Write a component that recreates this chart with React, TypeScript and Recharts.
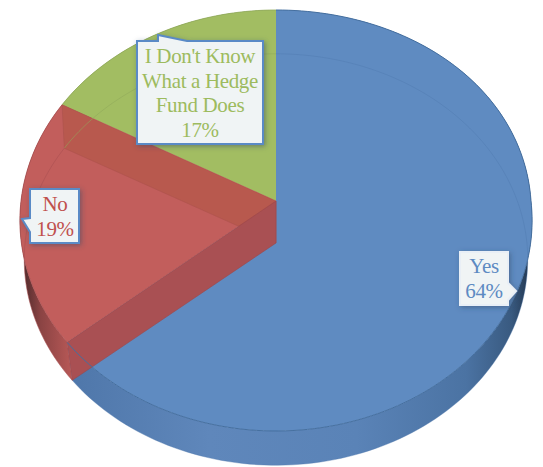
import React from "react";
import { PieChart, Pie } from "recharts";

// Survey shares, listed in paint order so the red wedge ends up on top.
const categories = ["Yes", "I Don't Know What a Hedge Fund Does", "No"];
const shares = [64, 17, 19];
const tableRows = categories.map((name, i) => ({ name, value: shares[i] }));

// Label lines for the callouts, same order as the categories.
const labelLines = [["Yes"], ["I Don't Know", "What a Hedge", "Fund Does"], ["No"]];

const topColors = ["#5f8bc1", "#a2bd62", "#c25e5c"];
const inkColors = ["#5d8ac2", "#9dbb5e", "#c0504d"];
const rimColors = ["#4d77ab", "#8fa85a", "#a84f50"];

// Callout geometry: outline polygon (box plus pointer), text centre, first baseline.
const callouts = [
  {
    outline: "460,252 508,252 508,283 516,291 508,300 508,305 460,305",
    cx: 484,
    base: 273,
    border: "#e9eff6",
  },
  {
    outline: "137,41 158,41 158,35 187,41 263,41 263,144 137,144",
    cx: 200,
    base: 63,
    border: "#5a8ac6",
  },
  {
    outline: "30,189 79,189 79,243 30,243 30,232 22,219 30,218",
    cx: 55,
    base: 211,
    border: "#5a8ac6",
  },
];

const W = 543;
const H = 467;
const PIE_CX = 276;
const PIE_CY = 201;
const PIE_R = 255;
const DEPTH = 42; // thickness of the disc at its hub

// Perspective of the two faces of the disc: tilt, vertical squash, horizontal scale.
const TOP_FACE = { tilt: 0.0926, squash: 0.8184, scale: 1, bulge: 10 };
const FLOOR_FACE = { tilt: 0.0803, squash: 0.8016, scale: 0.984, bulge: 0 };

// Start of the sweep so that "Yes" ends at twelve o'clock, running counter-clockwise.
const sweepStart = 90 + (360 * (shares[1] + shares[2])) / 100;

type Pt = [number, number];

function project(cx: number, cy: number, r: number, deg: number, floor: boolean): Pt {
  const face = floor ? FLOOR_FACE : TOP_FACE;
  const rad = (deg * Math.PI) / 180;
  const u = Math.cos(rad);
  const v = -Math.sin(rad);
  const w = 1 - face.tilt * v;
  // The far right of the top face leans slightly outward.
  const lean = face.bulge * Math.max(0, u) * Math.max(0, -v);
  return [cx + (face.scale * r * u) / w + lean, cy + (floor ? DEPTH : 0) + (r * face.squash * v) / w];
}

function arcPoints(cx: number, cy: number, r: number, a: number, b: number, floor: boolean): Pt[] {
  const n = Math.max(2, Math.ceil(Math.abs(b - a) / 1.5));
  const pts: Pt[] = [];
  for (let i = 0; i <= n; i++) pts.push(project(cx, cy, r, a + ((b - a) * i) / n, floor));
  return pts;
}

const toPath = (pts: Pt[], close = false) =>
  pts.map((p, i) => `${i ? "L" : "M"}${p[0].toFixed(2)},${p[1].toFixed(2)}`).join("") + (close ? "Z" : "");

// A wedge of the tilted disc: outer band, top face and, for "No", its two cut walls.
function DiscWedge(props: any) {
  const { cx, cy, outerRadius: r, startAngle: a, endAngle: b, index } = props;
  const top = arcPoints(cx, cy, r, a, b, false);
  const floor = arcPoints(cx, cy, r, a, b, true);
  const apex: Pt = [cx, cy];
  const apexFloor: Pt = [cx, cy + DEPTH];
  const band = toPath([...top, ...[...floor].reverse()], true);
  const face = toPath([apex, ...top], true);
  const wall = (deg: number) =>
    toPath([project(cx, cy, r, deg, false), apex, apexFloor, project(cx, cy, r, deg, true)], true);
  const bandFill = ["url(#bandBlue)", "#8fa85a", "url(#bandRed)"][index];
  return (
    <g>
      <defs>
        {index === 0 && (
          <linearGradient id="bandBlue" gradientUnits="userSpaceOnUse" x1="72" y1="0" x2="530" y2="0">
            <stop offset="0" stopColor="#4f77aa" />
            <stop offset="0.3" stopColor="#5f87bb" />
            <stop offset="0.62" stopColor="#5a83b7" />
            <stop offset="0.86" stopColor="#4b73a3" />
            <stop offset="0.96" stopColor="#395a80" />
            <stop offset="1" stopColor="#22364f" />
          </linearGradient>
        )}
        {index === 2 && (
          <linearGradient id="bandRed" gradientUnits="userSpaceOnUse" x1="22" y1="0" x2="74" y2="0">
            <stop offset="0" stopColor="#4d2a2b" />
            <stop offset="0.35" stopColor="#8a4343" />
            <stop offset="1" stopColor="#bb5a58" />
          </linearGradient>
        )}
      </defs>
      <path d={band} fill={bandFill} />
      <path d={face} fill={topColors[index]} />
      {index === 2 && (
        <g>
          <path d={wall(a)} fill="#b8594e" stroke="#ad534e" strokeWidth={0.6} />
          <path d={wall(b)} fill="#a95053" stroke="#9c4749" strokeWidth={0.6} />
        </g>
      )}
    </g>
  );
}

// Thin edge lines that show through the translucent disc.
function DiscRims(props: any) {
  const { cx, cy, outerRadius: r, startAngle: a, endAngle: b, index } = props;
  const floorArc = toPath(arcPoints(cx, cy, r, a, b, true));
  const topArc = toPath(arcPoints(cx, cy, r, a, b, false));
  return (
    <g fill="none">
      {index === 0 ? (
        <path d={topArc} stroke="#456f9f" strokeWidth={1} />
      ) : (
        <path d={topArc} stroke={rimColors[index]} strokeWidth={0.8} />
      )}
      <path d={floorArc} stroke={rimColors[index]} strokeWidth={0.8} strokeOpacity={index === 0 ? 0.45 : 0.7} />
    </g>
  );
}

// Callout box holding the category name and its share.
function Callout(props: any) {
  const { index } = props;
  const box = callouts[index];
  const lines = [...labelLines[index], `${shares[index]}%`];
  const lineGap = 24.6;
  return (
    <g>
      <defs>
        <filter id={`calloutShadow${index}`} x="-30%" y="-30%" width="160%" height="160%">
          <feDropShadow dx="1.5" dy="1.5" stdDeviation="2.5" floodColor="#2f4763" floodOpacity="0.5" />
        </filter>
      </defs>
      <polygon
        points={box.outline}
        fill="#f0f4f5"
        stroke={box.border}
        strokeWidth={2}
        filter={`url(#calloutShadow${index})`}
      />
      {lines.map((line, i) => (
        <text
          key={line}
          x={box.cx}
          y={box.base + i * lineGap}
          textAnchor="middle"
          fontFamily="'Liberation Serif', serif"
          fontSize={21}
          letterSpacing={-0.35}
          fill={inkColors[index]}
        >
          {line}
        </text>
      ))}
    </g>
  );
}

export default function App() {
  return (
    <div style={{ position: "absolute", left: 0, top: 0, width: W, height: H, overflow: "hidden", background: "#fff" }}>
      <PieChart width={W} height={H} margin={{ top: 0, right: 0, bottom: 0, left: 0 }}>
        <Pie
          data={tableRows}
          dataKey="value"
          nameKey="name"
          cx={PIE_CX}
          cy={PIE_CY}
          outerRadius={PIE_R}
          startAngle={sweepStart}
          endAngle={sweepStart + 360}
          stroke="none"
          isAnimationActive={false}
          shape={DiscWedge}
        />
        <Pie
          data={tableRows}
          dataKey="value"
          nameKey="name"
          cx={PIE_CX}
          cy={PIE_CY}
          outerRadius={PIE_R}
          startAngle={sweepStart}
          endAngle={sweepStart + 360}
          stroke="none"
          isAnimationActive={false}
          shape={DiscRims}
          label={Callout}
          labelLine={false}
        />
      </PieChart>
    </div>
  );
}
